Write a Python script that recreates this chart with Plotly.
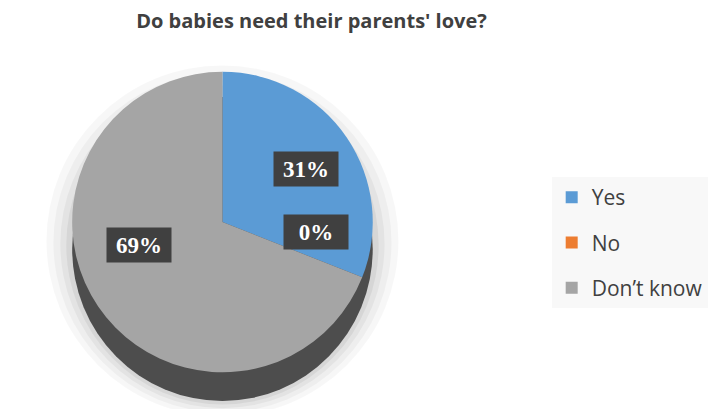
import math
import plotly.graph_objects as go

# ---- data ----
categories = ["Yes", "No", "Don’t know"]
values = [31, 0, 69]
colors = ["#5B9BD5", "#ED7D31", "#A5A5A5"]
title_text = "Do babies need their parents' love?"

W, H = 708, 409
cx, cy, R, depth = 225, 222, 152, 27  # pie geometry in pixels (layout)

def px_to_paper(x, y):
    return x / W, 1 - y / H

x0, y1 = px_to_paper(cx - R, cy - R)
x1, y0 = px_to_paper(cx + R, cy + R)

fig = go.Figure()
fig.add_trace(go.Pie(
    labels=categories,
    values=values,
    marker=dict(colors=colors, line=dict(width=0)),
    sort=False,
    direction="clockwise",
    rotation=0,
    textinfo="none",
    hoverinfo="label+percent",
    showlegend=False,
    domain=dict(x=[x0, x1], y=[y0, y1]),
))

# legend entries (one per category)
for i, (lab, col) in enumerate(zip(categories, colors)):
    fig.add_trace(go.Scatter(
        x=[None], y=[None], mode="markers", name=lab,
        marker=dict(symbol="square", size=13, color=col),
        legendgroup=f"g{i}", showlegend=True, hoverinfo="skip",
    ))

shapes = []
# soft shadow
for k, a in [(26, 0.03), (19, 0.035), (12, 0.045), (6, 0.055)]:
    sx0, sy1 = px_to_paper(cx - R - k, cy - R + 8 - k + depth * 0.5)
    sx1, sy0 = px_to_paper(cx + R + k, cy + R + depth + k * 0.6)
    shapes.append(dict(type="circle", xref="paper", yref="paper",
                       x0=sx0, x1=sx1, y0=sy0, y1=sy1,
                       fillcolor=f"rgba(0,0,0,{a})", line=dict(width=0), layer="below"))
# side wall of the 3D pie
wx0, wy1 = px_to_paper(cx - R, cy - R + depth)
wx1, wy0 = px_to_paper(cx + R, cy + R + depth)
shapes.append(dict(type="circle", xref="paper", yref="paper",
                   x0=wx0, x1=wx1, y0=wy0, y1=wy1,
                   fillcolor="#4d4d4d", line=dict(width=0), layer="below"))

# data labels derived from the values (placed with a tilted-pie projection)
annotations = []
total = sum(values)
cum = 0
for lab, v in zip(categories, values):
    mid = (cum + v / 2) / total * 2 * math.pi
    cum += v
    lx = cx + 0.67 * R * math.sin(mid)
    ly = cy - 15 - 0.45 * R * math.cos(mid)
    ax, ay = px_to_paper(lx, ly)
    annotations.append(dict(
        x=ax, y=ay, xref="paper", yref="paper", showarrow=False,
        xanchor="center", yanchor="middle",
        text=f"<b>{round(v / total * 100)}%</b>",
        font=dict(family="Liberation Serif", size=23, color="white"),
        bgcolor="#404040", borderpad=6, width=52, height=22,
    ))

fig.update_layout(
    width=W, height=H,
    paper_bgcolor="white", plot_bgcolor="white",
    margin=dict(l=0, r=0, t=0, b=0),
    xaxis=dict(visible=False), yaxis=dict(visible=False),
    title=dict(text=f"<b>{title_text}</b>", x=311.5 / W, xanchor="center",
               y=1 - 21 / H, yanchor="middle",
               font=dict(family="Open Sans", size=20, color="#404040")),
    showlegend=True,
    legend=dict(x=558 / W, y=1 - 177 / H, xanchor="left", yanchor="top",
                bgcolor="#F8F8F8", font=dict(family="Open Sans", size=21, color="#404040"),
                itemwidth=30, tracegroupgap=15, itemsizing="constant"),
    shapes=shapes,
    annotations=annotations,
)

fig.write_html("out.html", config={"displayModeBar": False},
               post_script="document.body.style.margin='0';")
